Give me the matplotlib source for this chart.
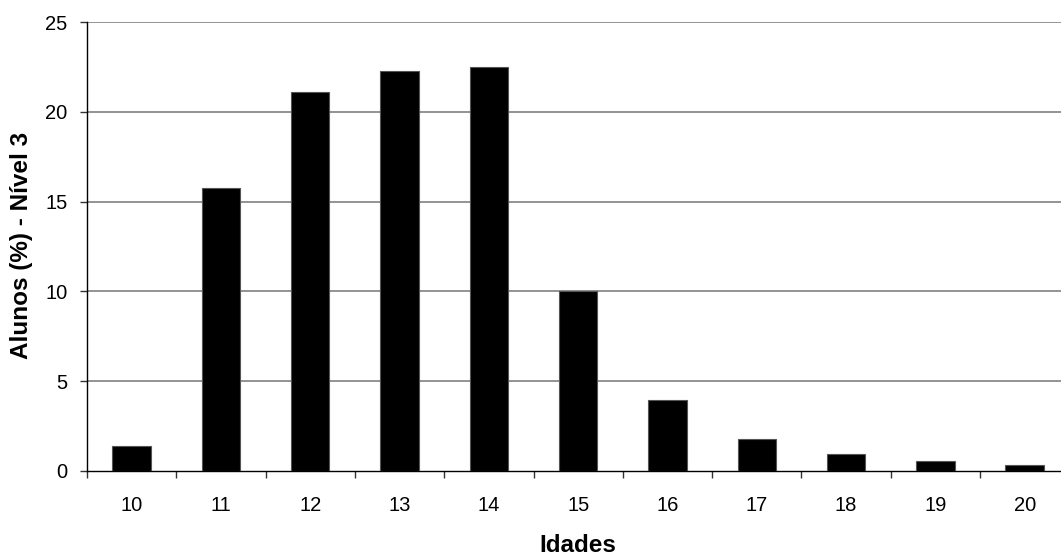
import matplotlib
matplotlib.use("Agg")
import matplotlib.pyplot as plt
import numpy as np

plt.rcParams['font.family'] = ['Liberation Sans', 'DejaVu Sans']

ages = ['10', '11', '12', '13', '14', '15', '16', '17', '18', '19', '20']
values = [1.37, 15.76, 21.08, 22.25, 22.48, 10.0, 3.98, 1.76, 0.95, 0.54, 0.33]
yticks = [0, 5, 10, 15, 20, 25]

W, H = 1061, 557
fig = plt.figure(figsize=(W / 100, H / 100), dpi=100)
left, right, top, bottom = 87, 1069.3, 22, 471
ax = fig.add_axes([left / W, 1 - bottom / H, (right - left) / W, (bottom - top) / H])

x = np.arange(len(ages))
ax.bar(x, values, width=0.43, color='black', edgecolor='#555555', linewidth=0.8, zorder=3)

ax.set_xlim(-0.5, len(ages) - 0.5)
ax.set_ylim(0, 25)
ax.set_yticks(yticks)
ax.set_yticklabels([str(v) for v in yticks], fontsize=14.5)
ax.set_xticks(x)
ax.set_xticklabels(ages, fontsize=14.5)
ax.set_xticks(np.arange(len(ages) + 1) - 0.5, minor=True)
ax.tick_params(axis='x', which='major', length=0, pad=18)
ax.tick_params(axis='x', which='minor', length=5, width=1, color='#333333')
ax.tick_params(axis='y', length=5, width=1, color='#333333', pad=9)

for v in yticks[1:]:
    ax.axhline(v, color='#808080', linewidth=1.2, zorder=1)

for s in ['top', 'right']:
    ax.spines[s].set_visible(False)
ax.spines['left'].set_color('black')
ax.spines['bottom'].set_color('black')
ax.spines['left'].set_linewidth(1)
ax.spines['bottom'].set_linewidth(1)

ax.set_xlabel('Idades', fontsize=17.5, fontweight='bold', labelpad=14)
fig.text(22 / W, 1 - 245 / H, 'Alunos (%) - Nível 3', fontsize=17.5, fontweight='bold',
         rotation=90, ha='center', va='center')

fig.savefig('out.png', dpi=100)
